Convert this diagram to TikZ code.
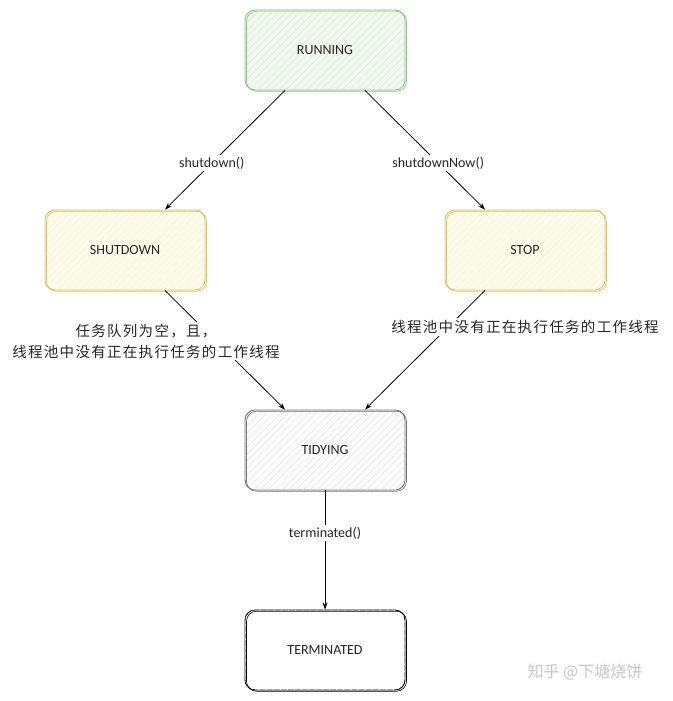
\documentclass[tikz,border=0pt]{standalone}
\usepackage{fontspec}
\setmainfont{Carlito}
\newfontfamily\cjk[LetterSpace = 9]{Noto Sans CJK SC}
\newfontfamily\cjkmark{Noto Sans CJK SC}
\usetikzlibrary{arrows.meta,patterns.meta}
\definecolor{runline}{HTML}{8CC07E}
\definecolor{runfill}{HTML}{F1F8EF}
\definecolor{runhatch}{HTML}{D8EBD3}
\definecolor{shutline}{HTML}{D9BE5C}
\definecolor{shutfill}{HTML}{FFFCEE}
\definecolor{shuthatch}{HTML}{F7EDC8}
\definecolor{tidyline}{HTML}{707070}
\definecolor{tidyfill}{HTML}{FBFBFB}
\definecolor{tidyhatch}{HTML}{E6E6E6}
\begin{document}
\begin{tikzpicture}[
        x = 1pt, y = -1pt,
        font = \fontsize{14}{16}\selectfont,
        state/.style n args = {3}{draw = #1, fill = #2, line width = 0.9pt,
          rounded corners = 10pt, minimum width = 160pt, minimum height = 80pt,
          text = black!85,
          postaction = {pattern = {Lines[angle = 45, distance = 5pt, line width = 0.5pt]}, pattern color = #3},
          postaction = {draw = #1, line width = 0.6pt, transform canvas = {xshift = 1.5pt, yshift = -1.2pt}}},
        trans/.style = {-{Stealth[length = 7pt, width = 5pt]}, line width = 0.8pt},
        lbl/.style = {fill = white, inner sep = 2pt, text = black!85}
      ]
      \useasboundingbox[fill = white] (0, 0) rectangle (672, 701);
      % nodes
      \node[state = {runline}{runfill}{runhatch}]       (running)    at (325,  50) {RUNNING};
      \node[state = {shutline}{shutfill}{shuthatch}]    (shutdown)   at (125, 250) {SHUTDOWN};
      \node[state = {shutline}{shutfill}{shuthatch}]    (stop)       at (525, 250) {STOP};
      \node[state = {tidyline}{tidyfill}{tidyhatch}]    (tidying)    at (325, 450) {TIDYING};
      \node[state = {black}{white}{white}]              (terminated) at (325, 650) {TERMINATED};
      % the transitions
      \draw[trans] ([xshift = -40pt]running.south) -- node[lbl, pos = 0.61] {shutdown()} ([xshift = 40pt]shutdown.north);
      \draw[trans] ([xshift = 40pt]running.south)  -- node[lbl, pos = 0.61] {shutdownNow()} ([xshift = -40pt]stop.north);
      \draw[trans] ([xshift = 40pt]shutdown.south) -- ([xshift = -40pt]tidying.north);
      \draw[trans] ([xshift = -40pt]stop.south)    -- ([xshift = 40pt]tidying.north);
      \draw[trans] (tidying.south) -- node[lbl, pos = 0.36] {terminated()} (terminated.north);
      % the conditions
      \node[lbl, align = center, font = \cjk\fontsize{14.5}{21}\selectfont] (emptycond) at (146, 341)
        {任务队列为空，且，\\线程池中没有正在执行任务的工作线程};
      \node[lbl, font = \cjk\fontsize{14.5}{21}\selectfont] (idlecond) at (525, 327)
        {线程池中没有正在执行任务的工作线程};
      % watermark
      \node[text = black!22, font = \cjkmark\fontsize{16}{18}\selectfont] (mark) at (585, 672) {知乎 @下塘烧饼};
    \end{tikzpicture}
\end{document}
